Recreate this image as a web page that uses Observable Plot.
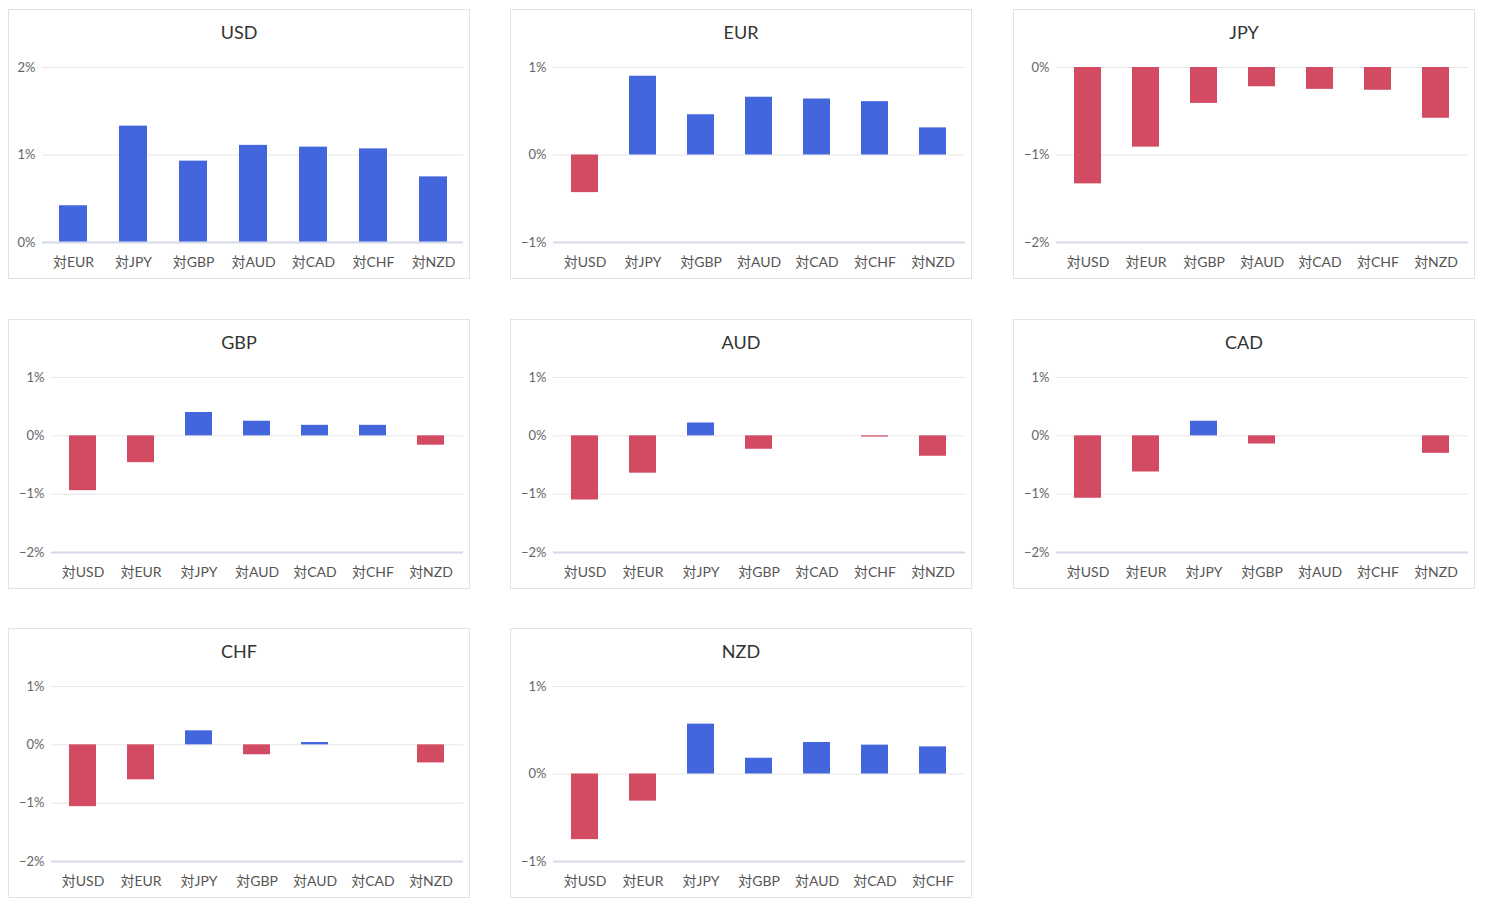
<!DOCTYPE html>
<html>
<head>
<meta charset="utf-8">
<script src="https://cdn.jsdelivr.net/npm/d3@7"></script>
<script src="https://cdn.jsdelivr.net/npm/@observablehq/plot@0.6"></script>
<style>
  html, body { margin: 0; padding: 0; background: #fff; }
  body { width: 1486px; height: 910px; position: relative; font-family: Lato, "Noto Sans CJK JP", sans-serif; }
  .panel { position: absolute; width: 462px; height: 270px; box-sizing: border-box; border: 1px solid #dde5e8; background: #fff; }
  .title { height: 44px; line-height: 44px; text-align: center; font-size: 18px; color: #333; }
  .panel svg { display: block; }
</style>
</head>
<body>
<script>
// Currencies (panel order) and per-panel values (% change vs each counterpart, in currency order without self)
const currencies = ["USD", "EUR", "JPY", "GBP", "AUD", "CAD", "CHF", "NZD"];
const usd = [0.42, 1.33, 0.93, 1.11, 1.09, 1.07, 0.75];
const eur = [-0.43, 0.90, 0.46, 0.66, 0.64, 0.61, 0.31];
const jpy = [-1.33, -0.91, -0.41, -0.22, -0.25, -0.26, -0.58];
const gbp = [-0.94, -0.46, 0.40, 0.25, 0.18, 0.18, -0.16];
const aud = [-1.10, -0.64, 0.22, -0.23, 0.00, -0.02, -0.35];
const cad = [-1.07, -0.62, 0.25, -0.14, 0.00, 0.00, -0.30];
const chf = [-1.06, -0.60, 0.24, -0.17, 0.04, 0.00, -0.31];
const nzd = [-0.75, -0.31, 0.57, 0.18, 0.36, 0.33, 0.31];
// Y axis tick values per panel
const usdTicks = [0, 1, 2];
const eurTicks = [-1, 0, 1];
const jpyTicks = [-2, -1, 0];
const gbpTicks = [-2, -1, 0, 1];
const audTicks = [-2, -1, 0, 1];
const cadTicks = [-2, -1, 0, 1];
const chfTicks = [-2, -1, 0, 1];
const nzdTicks = [-1, 0, 1];

const seriesValues = [usd, eur, jpy, gbp, aud, cad, chf, nzd];
const seriesTicks = [usdTicks, eurTicks, jpyTicks, gbpTicks, audTicks, cadTicks, chfTicks, nzdTicks];

const colLeft = [8, 510, 1013];
const rowTop = [9, 319, 628];
const BLUE = "#4466dd", RED = "#d34a63";

const fmt = d => (d < 0 ? "\u2212" : "") + Math.abs(d) + "%";

currencies.forEach((base, i) => {
  const others = currencies.filter(c => c !== base);
  const vals = seriesValues[i];
  const ticks = seriesTicks[i];
  const data = others.map((c, j) => ({cat: "対" + c, v: vals[j]}));
  const ymin = d3.min(ticks), ymax = d3.max(ticks);
  const hasNeg = ymin < 0;

  const panel = document.createElement("div");
  panel.className = "panel";
  panel.style.left = colLeft[i % 3] + "px";
  panel.style.top = rowTop[Math.floor(i / 3)] + "px";
  const title = document.createElement("div");
  title.className = "title";
  title.textContent = base;
  panel.appendChild(title);

  const chart = Plot.plot({
    width: 460,
    height: 224,
    marginTop: 13,
    marginBottom: 36,
    marginLeft: hasNeg ? 42 : 33,
    marginRight: 6,
    style: {fontFamily: 'Lato, "Noto Sans CJK JP", sans-serif', color: "#555", background: "transparent"},
    x: {domain: data.map(d => d.cat), paddingInner: 0.534, paddingOuter: 0.267, label: null},
    y: {domain: [ymin, ymax], label: null},
    marks: [
      Plot.ruleY(ticks.filter(t => t !== ymin), {stroke: "#e6e6e6", strokeWidth: 1}),
      Plot.barY(data, {x: "cat", y1: 0, y2: "v", fill: d => d.v >= 0 ? BLUE : RED}),
      Plot.ruleY([ymin], {stroke: "#d5d9ea", strokeWidth: 2}),
      Plot.axisY({ticks: ticks, tickFormat: fmt, tickSize: 0, tickPadding: 7, fontSize: 13, color: "#666", label: null}),
      Plot.axisX({tickSize: 0, tickPadding: 15, fontSize: 14, color: "#555", label: null})
    ],
    color: {type: "identity"}
  });
  panel.appendChild(chart);
  document.body.appendChild(panel);
});
</script>
</body>
</html>
